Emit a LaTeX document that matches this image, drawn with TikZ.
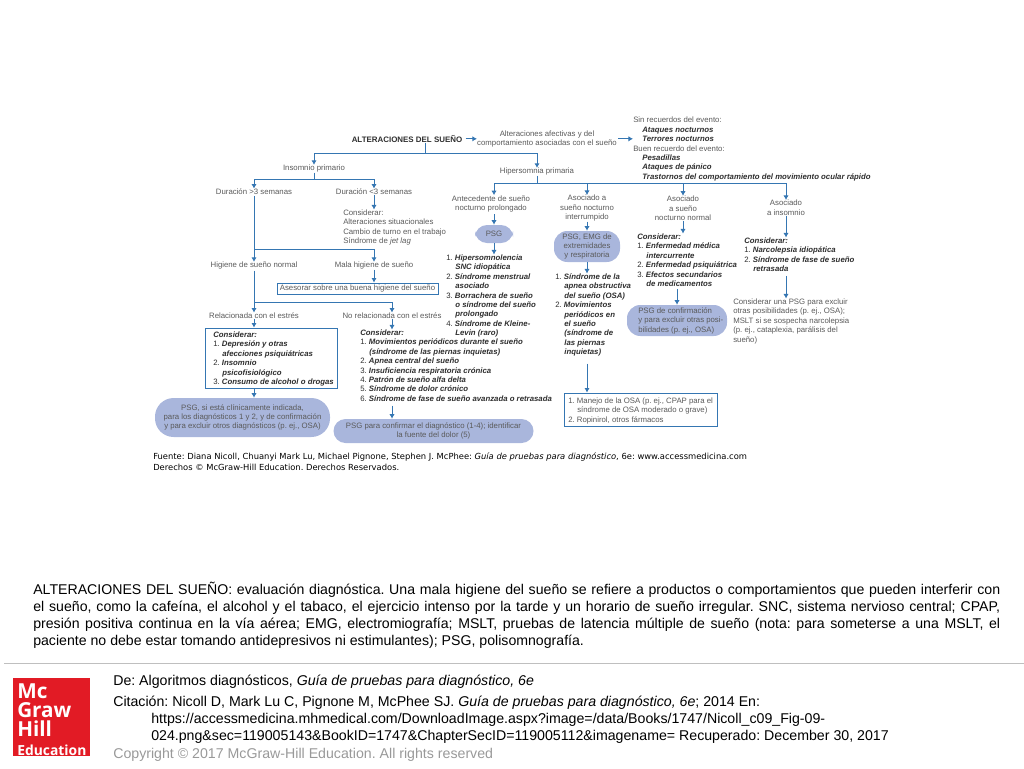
\documentclass[tikz,border=0pt]{standalone}
\usepackage{fontspec}
\usetikzlibrary{arrows.meta,calc}
\setmainfont{Liberation Sans}
\newfontfamily\srcfont{DejaVu Sans}
\newfontfamily\logofont{Open Sans}
\definecolor{flow}{HTML}{3576B2}
\definecolor{pillc}{HTML}{A9B6DC}
\definecolor{greytx}{HTML}{5A5A5A}
\definecolor{darktx}{HTML}{2E2E2E}
\definecolor{logored}{HTML}{E21B25}
\newcommand{\dgf}{\fontsize{5.85}{7.05}\selectfont}
\newcommand{\capf}{\fontsize{10.63}{13}\selectfont}
\newcommand{\ind}{\hspace*{6.8pt}}
\newcommand{\bi}[1]{\textbf{\textit{#1}}}
\frenchspacing
\tikzset{
  lab/.style={inner sep=0pt,font=\dgf,text=greytx,align=center,yshift=-0.6pt},
  lst/.style={inner sep=0pt,font=\dgf,text=darktx,align=left,anchor=north west},
  lsg/.style={inner sep=0pt,font=\dgf,text=greytx,align=left,anchor=north west},
  pill/.style={fill=pillc,rounded corners=9pt,inner sep=0pt,font=\dgf,text=greytx,align=center},
  frame/.style={draw=flow,line width=0.7pt,inner sep=0pt,fill=white},
  arr/.style={draw=flow,line width=0.75pt,-{Latex[length=3.4pt,width=4pt]}},
  bus/.style={draw=flow,line width=0.75pt},
  capt/.style={inner sep=0pt,font=\capf,text=black,anchor=west,align=left}
}
\begin{document}
\begin{tikzpicture}[x=0.75pt,y=-0.75pt]
\useasboundingbox (0,0) rectangle (1024,768);
% --- top
\node[lab,text=darktx,font=\fontsize{5.95}{7}\selectfont] (root) at (407,138) {\textbf{ALTERACIONES DEL SUEÑO}};
\node[lab] (afect) at (547,138) {Alteraciones afectivas y del\\comportamiento asociadas con el sueño};
\node[lsg,text=darktx] (sin) at (633,117) {{\color{greytx}Sin recuerdos del evento:}\\
\ind\bi{Ataques nocturnos}\\\ind\bi{Terrores nocturnos}\\
{\color{greytx}Buen recuerdo del evento:}\\
\ind\bi{Pesadillas}\\\ind\bi{Ataques de pánico}\\\ind\bi{Trastornos del comportamiento del movimiento ocular rápido}};
\draw[arr] (root.east)++(3,0) -- (afect.west);
\draw[arr] (afect.east)++(1,0) -- (sin.west |- afect.east);
% --- left branch
\node[lab] (insom) at (314,168) {Insomnio primario};
\node[lab] (hiper) at (537,171) {Hipersomnia primaria};
\coordinate (jtop) at (425,153);
\draw[bus] (root.south -| jtop) -- (jtop);
\draw[arr] (jtop) -| (insom.north);
\draw[arr] (jtop) -| (hiper.north);
\node[lab] (dmas) at (254,191) {Duración >3 semanas};
\node[lab] (dmen) at (374,191) {Duración <3 semanas};
\coordinate (jins) at (314,179);
\draw[bus] (insom.south) -- (jins);
\draw[arr] (jins) -| (dmas.north);
\draw[arr] (jins) -| (dmen.north);
\node[lsg] (cons1) at (343,209.5) {Considerar:\\Alteraciones situacionales\\Cambio de turno en el trabajo\\Síndrome de \textit{jet lag}};
\draw[arr] (dmen.south) -- (dmen.south |- cons1.north);
\node[lab] (hnor) at (254,265) {Higiene de sueño normal};
\node[lab] (hmal) at (374,265) {Mala higiene de sueño};
\coordinate (jdur) at (254,249);
\draw[bus] (dmas.south) ++(0,1) -- (jdur);
\draw[arr] (jdur) -- (hnor.north);
\draw[arr] (jdur) -| (hmal.north);
\node[frame,minimum width=120.75pt,minimum height=8.25pt,font=\dgf,text=greytx] (ases) at (357.5,288.5) {Asesorar sobre una buena higiene del sueño};
\draw[arr] (hmal.south) -- (hmal.south |- ases.north);
\node[lab] (rel) at (254,315) {Relacionada con el estrés};
\node[lab] (norel) at (392,315) {No relacionada con el estrés};
\coordinate (jhig) at (254,302);
\draw[bus] (hnor.south) ++(0,1) -- (jhig);
\draw[arr] (jhig) -- (rel.north);
\draw[arr] (jhig) -| (norel.north);
\node[frame,minimum width=99pt,minimum height=45pt] (boxrel) at (271,358) {};
\node[lst] (lrel) at (213,331.5) {\bi{Considerar:}\\1. \bi{Depresión y otras}\\\ind\bi{afecciones psiquiátricas}\\2. \bi{Insomnio}\\\ind\bi{psicofisiológico}\\3. \bi{Consumo de alcohol o drogas}};
\draw[arr] (rel.south) -- (rel.south |- boxrel.north);
\node[pill,minimum width=131.25pt,minimum height=29.25pt,rounded corners=14pt] (pill1) at (242.5,417.5) {PSG, si está clínicamente indicada,\\para los diagnósticos 1 y 2, y de confirmación\\y para excluir otros diagnósticos (p. ej., OSA)};
\draw[arr] (boxrel.south -| rel.south) -- (pill1.north -| rel.south);
\node[lst] (lnorel) at (360,329.5) {\bi{Considerar:}\\1. \bi{Movimientos periódicos durante el sueño}\\\ind\bi{(síndrome de las piernas inquietas)}\\2. \bi{Apnea central del sueño}\\3. \bi{Insuficiencia respiratoria crónica}\\4. \bi{Patrón de sueño alfa delta}\\5. \bi{Síndrome de dolor crónico}\\6. \bi{Síndrome de fase de sueño avanzada o retrasada}};
\draw[arr] (norel.south) -- (norel.south |- lnorel.north);
\node[pill,minimum width=150pt,minimum height=18pt] (pill2) at (433.5,431) {PSG para confirmar el diagnóstico (1-4); identificar\\la fuente del dolor (5)};
\draw[arr] (lnorel.south -| norel.south) ++(0,4) -- (pill2.north -| norel.south);
% --- right branch
\coordinate (jhip) at (537,183);
\draw[bus] (hiper.south) -- (jhip);
\node[lab] (c1) at (491,203) {Antecedente de sueño\\nocturno prolongado};
\node[lab] (c2) at (587,207.5) {Asociado a\\sueño nocturno\\interrumpido};
\node[lab] (c3) at (683,207.5) {Asociado\\a sueño\\nocturno normal};
\node[lab] (c4) at (786,207) {Asociado\\a insomnio};
\node[pill,minimum width=28.5pt,minimum height=13.5pt] (psg) at (494,234) {PSG};
\draw[arr] (jhip) -| (psg.north |- c1.north);
\draw[arr] (jhip) -| (c2.north);
\draw[arr] (jhip) -| (c3.north);
\draw[arr] (jhip) -| (c4.north);
\draw[arr] (psg.north |- c1.south) ++(0,2) -- (psg.north);
\node[lst] (l1) at (446,254.5) {1. \bi{Hipersomnolencia}\\\ind\bi{SNC idiopática}\\2. \bi{Síndrome menstrual}\\\ind\bi{asociado}\\3. \bi{Borrachera de sueño}\\\ind\bi{o síndrome del sueño}\\\ind\bi{prolongado}\\4. \bi{Síndrome de Kleine-}\\\ind\bi{Levin (raro)}};
\draw[arr] (psg.south) -- (psg.south |- l1.north);
\node[pill,minimum width=49.5pt,minimum height=23.25pt,rounded corners=10pt] (pill3) at (587,246.5) {PSG, EMG de\\extremidades\\y respiratoria};
\draw[arr] (c2.south) -- (pill3.north);
\node[lst] (l2) at (555,273.5) {1. \bi{Síndrome de la}\\\ind\bi{apnea obstructiva}\\\ind\bi{del sueño (OSA)}\\2. \bi{Movimientos}\\\ind\bi{periódicos en}\\\ind\bi{el sueño}\\\ind\bi{(síndrome de}\\\ind\bi{las piernas}\\\ind\bi{inquietas)}};
\draw[arr] (pill3.south) -- (pill3.south |- l2.north);
\node[frame,minimum width=114.75pt,minimum height=24.75pt] (boxosa) at (640.5,409.5) {};
\node[lsg] (losa) at (568,397.5) {1. Manejo de la OSA (p. ej., CPAP para el\\\ind síndrome de OSA moderado o grave)\\2. Ropinirol, otros fármacos};
\draw[arr] (pill3.south |- l2.south) ++(0,7) -- (pill3.south |- boxosa.north);
\node[lst] (l3) at (637,233.5) {\bi{Considerar:}\\1. \bi{Enfermedad médica}\\\ind\bi{intercurrente}\\2. \bi{Enfermedad psiquiátrica}\\3. \bi{Efectos secundarios}\\\ind\bi{de medicamentos}};
\draw[arr] (c3.south) -- (c3.south |- l3.north);
\node[pill,minimum width=75pt,minimum height=23.25pt,rounded corners=10pt] (pill4) at (677,320.5) {};
\node[lsg] (lp4) at (638,307.5) {PSG de confirmación\\y para excluir otras posi-\\bilidades (p. ej., OSA)};
\draw[arr] (pill4.north |- l3.south) ++(0,2) -- (pill4.north);
\node[lst] (l4) at (744,237.5) {\bi{Considerar:}\\1. \bi{Narcolepsia idiopática}\\2. \bi{Síndrome de fase de sueño}\\\ind\bi{retrasada}};
\draw[arr] (c4.south) -- (c4.south |- l4.north);
\node[lsg] (l5) at (733,298.5) {Considerar una PSG para excluir\\otras posibilidades (p. ej., OSA);\\MSLT si se sospecha narcolepsia\\(p. ej., cataplexia, parálisis del\\sueño)};
\draw[arr] (c4.south |- l4.south) ++(0,4) -- (c4.south |- l5.north);
% --- source
\node[inner sep=0pt,anchor=north west,align=left,text=black,font=\srcfont\fontsize{6.28}{8.2}\selectfont] (src) at (153,452.5) {Fuente: Diana Nicoll, Chuanyi Mark Lu, Michael Pignone, Stephen J. McPhee: \textit{Guía de pruebas para diagnóstico}, 6e: www.accessmedicina.com\\Derechos © McGraw-Hill Education. Derechos Reservados.};
% --- caption
\node[inner sep=0pt,anchor=north west,text width=725.25pt,align=justify,font=\fontsize{10.6}{12.95}\selectfont] (cap) at (33,581.5) {ALTERACIONES DEL SUEÑO: evaluación diagnóstica. Una mala higiene del sueño se refiere a productos o comportamientos que pueden interferir con\linebreak el sueño, como la cafeína, el alcohol y el tabaco, el ejercicio intenso por la tarde y un horario de sueño irregular. SNC, sistema nervioso central; CPAP,\linebreak presión positiva continua en la vía aérea; EMG, electromiografía; MSLT, pruebas de latencia múltiple de sueño (nota: para someterse a una MSLT, el\linebreak paciente no debe estar tomando antidepresivos ni estimulantes); PSG, polisomnografía.};
% --- footer
\coordinate (rl) at (4,663.5);
\coordinate (rr) at (1024,663.5);
\draw[draw=black!25,line width=1.1pt] (rl) -- (rr);
\fill[logored] (13,678) rectangle (90,756);
\node[inner sep=0pt,anchor=north west,text=white,align=left,font=\logofont\bfseries\fontsize{15.5}{14.25}\selectfont] (logo) at (17,683) {Mc\\Graw\\Hill\\{\fontsize{10.4}{12}\selectfont Education}};
\node[capt] (f1) at (113,682) {De: Algoritmos diagnósticos, \textit{Guía de pruebas para diagnóstico, 6e}};
\node[capt] (f2) at (113,703) {Citación: Nicoll D, Mark Lu C, Pignone M, McPhee SJ. \textit{Guía de pruebas para diagnóstico, 6e}; 2014 En:};
\node[capt] (f3) at (151,720) {https://accessmedicina.mhmedical.com/DownloadImage.aspx?image=/data/Books/1747/Nicoll\_c09\_Fig-09-};
\node[capt] (f4) at (151,737) {024.png\&sec=119005143\&BookID=1747\&ChapterSecID=119005112\&imagename= Recuperado: December 30, 2017};
\node[capt,text=black!40] (f5) at (113,755) {Copyright © 2017 McGraw-Hill Education. All rights reserved};
\end{tikzpicture}
\end{document}
